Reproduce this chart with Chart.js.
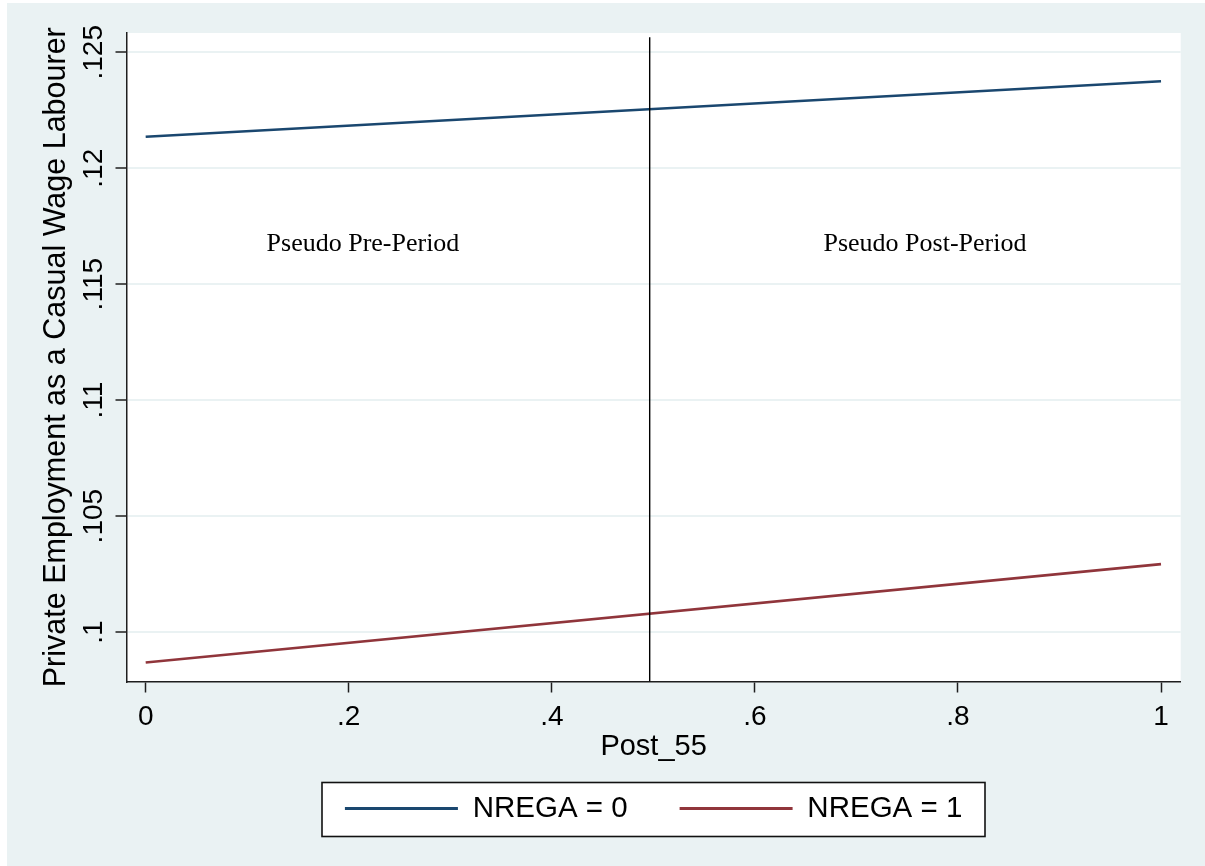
<!DOCTYPE html>
<html>
<head>
<meta charset="utf-8">
<script src="https://cdn.jsdelivr.net/npm/chart.js@4/dist/chart.umd.min.js"></script>
<style>
  html, body { margin: 0; padding: 0; background: #ffffff; }
  #wrap { width: 1205px; height: 866px; position: relative; }
  canvas { display: block; }
</style>
</head>
<body>
<div id="wrap"><canvas id="c" width="1205" height="866"></canvas></div>
<script>
// ---- data ----
const post55 = [0, 1];
const nrega0 = [0.12136, 0.12375];
const nrega1 = [0.09869, 0.10293];
const seriesLabels = ['NREGA = 0', 'NREGA = 1'];
const xTicks = [0, 0.2, 0.4, 0.6, 0.8, 1];
const xTickLabels = ['0', '.2', '.4', '.6', '.8', '1'];
const yTicks = [0.1, 0.105, 0.11, 0.115, 0.12, 0.125];
const yTickLabels = ['.1', '.105', '.11', '.115', '.12', '.125'];
const cutoff = 0.4964;
const periodLabels = ['Pseudo Pre-Period', 'Pseudo Post-Period'];
const xTitle = 'Post_55';
const yTitle = 'Private Employment as a Casual Wage Labourer';

// axis ranges
const xMin = -0.0189, xMax = 1.0194;
const yMin = 0.09787, yMax = 0.12583;
const cutoffTop = 0.12565;

// annotation placement (data coordinates)
const periodLabelX = [0.214, 0.7675];
const periodLabelY = 0.11645;

const SANS = '"Liberation Sans", Arial, Helvetica, sans-serif';
const SERIF = '"Liberation Serif", "Times New Roman", serif';
const BG = '#EAF2F3';
const AXIS = '#1e1e1e';
const BLUE = '#1A476F';
const RED = '#90353B';

const bgPlugin = {
  id: 'bgPlugin',
  beforeDraw(chart) {
    const ctx = chart.ctx, a = chart.chartArea;
    ctx.save();
    ctx.fillStyle = '#ffffff';
    ctx.fillRect(0, 0, chart.width, chart.height);
    ctx.fillStyle = BG;
    ctx.fillRect(7, 3, chart.width - 7, chart.height - 3);
    ctx.fillStyle = '#ffffff';
    ctx.fillRect(a.left, a.top, a.right - a.left, a.bottom - a.top);
    // legend frame
    const lg = chart.legend;
    const cx = (lg.left + lg.right) / 2;
    const bx = cx - 331.6, by = lg.top + 40.75, bw = 663, bh = 54;
    ctx.fillRect(bx, by, bw, bh);
    ctx.strokeStyle = '#111';
    ctx.lineWidth = 1.6;
    ctx.strokeRect(bx, by, bw, bh);
    ctx.restore();
  }
};

const textPlugin = {
  id: 'textPlugin',
  afterDatasetsDraw(chart) {
    const ctx = chart.ctx, xs = chart.scales.x, ys = chart.scales.y;
    ctx.save();
    ctx.fillStyle = '#000';
    ctx.font = '26px ' + SERIF;
    ctx.textAlign = 'center';
    ctx.textBaseline = 'alphabetic';
    periodLabels.forEach((t, i) => {
      ctx.fillText(t, xs.getPixelForValue(periodLabelX[i]), ys.getPixelForValue(periodLabelY));
    });
    ctx.restore();
  }
};

Chart.defaults.font.family = SANS;
Chart.defaults.color = '#000';

new Chart(document.getElementById('c'), {
  type: 'line',
  data: {
    datasets: [
      {
        label: '',
        data: [{x: cutoff, y: yMin}, {x: cutoff, y: cutoffTop}],
        borderColor: '#000',
        borderWidth: 1.4,
        pointRadius: 0,
        fill: false,
        tension: 0
      },
      {
        label: seriesLabels[0],
        data: post55.map((x, i) => ({x: x, y: nrega0[i]})),
        borderColor: BLUE,
        backgroundColor: BLUE,
        borderWidth: 2.6,
        pointRadius: 0,
        fill: false,
        tension: 0
      },
      {
        label: seriesLabels[1],
        data: post55.map((x, i) => ({x: x, y: nrega1[i]})),
        borderColor: RED,
        backgroundColor: RED,
        borderWidth: 2.6,
        pointRadius: 0,
        fill: false,
        tension: 0
      }
    ]
  },
  options: {
    responsive: false,
    animation: false,
    devicePixelRatio: 1,
    events: [],
    layout: { padding: { top: 33, right: 24.3, bottom: 32.75, left: 0 } },
    plugins: {
      tooltip: { enabled: false },
      title: { display: false },
      legend: {
        display: true,
        position: 'bottom',
        fullSize: false,
        labels: {
          boxWidth: 113,
          boxHeight: 3,
          padding: 52,
          color: '#000',
          font: { size: 29.5, family: SANS },
          generateLabels(chart) {
            return chart.data.datasets
              .map((ds, i) => ({ ds, i }))
              .filter(o => o.ds.label)
              .map(o => ({
                text: o.ds.label,
                fillStyle: o.ds.borderColor,
                strokeStyle: o.ds.borderColor,
                lineWidth: 0,
                hidden: false,
                datasetIndex: o.i,
                fontColor: '#000'
              }));
          }
        }
      }
    },
    scales: {
      x: {
        type: 'linear',
        position: 'bottom',
        min: xMin,
        max: xMax,
        afterBuildTicks(s) { s.ticks = xTicks.map(v => ({ value: v })); },
        afterFit(s) { s.height = 60.25; },
        ticks: {
          autoSkip: false,
          maxRotation: 0,
          padding: 8,
          color: '#000',
          font: { size: 28 },
          callback: (v, i) => xTickLabels[i]
        },
        grid: {
          drawOnChartArea: false,
          drawTicks: true,
          tickLength: 11,
          tickColor: AXIS,
          tickWidth: 1.5
        },
        border: { display: true, color: AXIS, width: 1.5 },
        title: {
          display: true,
          text: xTitle,
          color: '#000',
          font: { size: 29 },
          padding: { top: 0, bottom: -22.35 }
        }
      },
      y: {
        type: 'linear',
        position: 'left',
        min: yMin,
        max: yMax,
        afterBuildTicks(s) { s.ticks = yTicks.map(v => ({ value: v })); },
        afterFit(s) { s.width = 126.5; },
        ticks: {
          autoSkip: false,
          minRotation: 90,
          maxRotation: 90,
          crossAlign: 'center',
          padding: -6,
          color: '#000',
          font: { size: 28 },
          callback: (v, i) => yTickLabels[i]
        },
        grid: {
          color: BG,
          lineWidth: 2,
          drawTicks: true,
          tickLength: 11,
          tickColor: AXIS,
          tickWidth: 1.5
        },
        border: { display: true, color: AXIS, width: 1.5 },
        title: {
          display: true,
          text: yTitle,
          color: '#000',
          font: { size: 30.5 },
          padding: { top: 38.5, bottom: 0 }
        }
      }
    }
  },
  plugins: [bgPlugin, textPlugin]
});
</script>
</body>
</html>
